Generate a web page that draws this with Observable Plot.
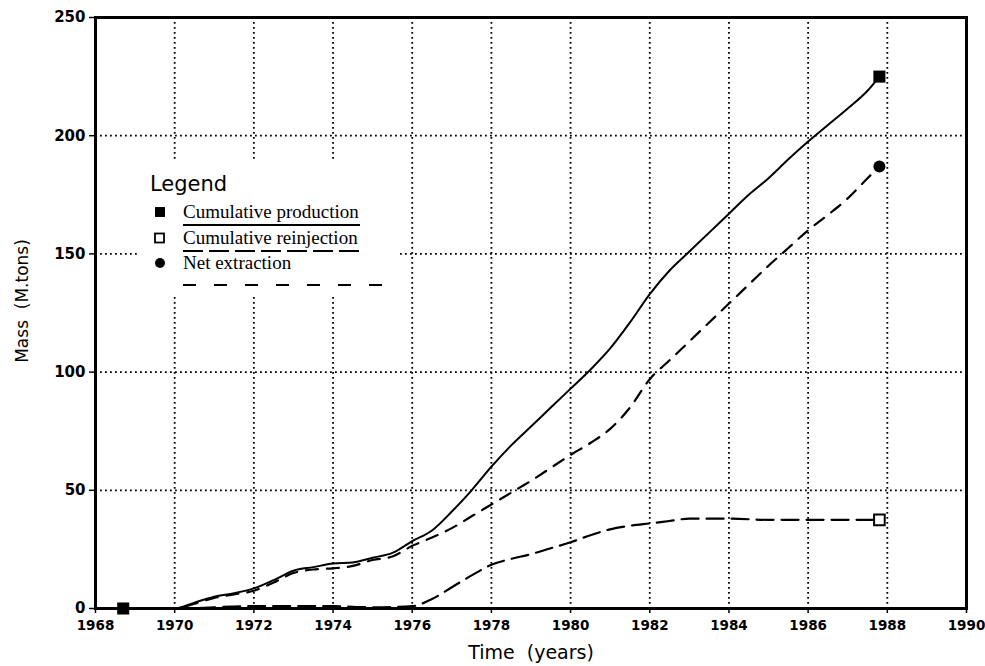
<!DOCTYPE html>
<html>
<head>
<meta charset="utf-8">
<script src="https://cdn.jsdelivr.net/npm/d3@7"></script>
<script src="https://cdn.jsdelivr.net/npm/@observablehq/plot@0.6"></script>
<style>
  html, body { margin: 0; padding: 0; background: #fff; }
  #wrap { position: relative; width: 985px; height: 666px; }
  #legend { position: absolute; left: 140px; top: 160px; }
</style>
</head>
<body>
<div id="wrap"></div>
<script>
// ---- data ----
const prodYears = [1968.7, 1970, 1970.5, 1971, 1971.5, 1972, 1972.5, 1973, 1973.5, 1974, 1974.5, 1975, 1975.5, 1976, 1976.5, 1977, 1977.5, 1978, 1978.5, 1979, 1979.5, 1980, 1980.5, 1981, 1981.5, 1982, 1982.5, 1983, 1983.5, 1984, 1984.5, 1985, 1985.5, 1986, 1986.5, 1987, 1987.5, 1987.8];
const production = [0, 0, 2.5, 5, 6.5, 8.5, 12, 16, 17.5, 19, 19.5, 21.5, 23.5, 28.5, 33, 41, 50, 60, 69, 77, 85, 93, 101, 110, 121, 133, 143, 151, 159, 167, 175, 182, 190, 197.5, 204.5, 211.5, 219, 225];

const netYears = [1968.7, 1970, 1970.5, 1971, 1971.5, 1972, 1972.5, 1973, 1973.5, 1974, 1974.5, 1975, 1975.5, 1976, 1976.5, 1977, 1977.5, 1978, 1978.5, 1979, 1979.5, 1980, 1980.5, 1981, 1981.5, 1982, 1982.5, 1983, 1983.5, 1984, 1984.5, 1985, 1985.5, 1986, 1986.5, 1987, 1987.5, 1987.8];
const netExtraction = [0, 0, 2, 4.5, 6, 7.5, 11, 15, 16.5, 17, 18, 20.5, 22, 26.5, 30, 34, 39, 44, 49, 54, 59.5, 65, 70, 76, 85, 97, 105, 113, 121, 129, 137, 145, 152.5, 160, 166.5, 173.5, 182, 187];

const reinjYears = [1968.7, 1970, 1972, 1974, 1975, 1976, 1976.5, 1977, 1977.5, 1978, 1978.5, 1979, 1979.5, 1980, 1980.5, 1981, 1981.5, 1982, 1982.5, 1983, 1984, 1985, 1986, 1987, 1987.8];
const reinjection = [0, 0, 1, 1, 0.5, 1, 4, 9, 14, 18.5, 21, 23, 25.5, 28, 31, 33.5, 35, 36, 37, 38, 38, 37.5, 37.5, 37.5, 37.5];

const xTicks = [1968, 1970, 1972, 1974, 1976, 1978, 1980, 1982, 1984, 1986, 1988, 1990];
const yTicks = [0, 50, 100, 150, 200, 250];

const legendTitle = "Legend";
const legendLabels = ["Cumulative production", "Cumulative reinjection", "Net extraction"];

// ---- tables ----
const prodData = prodYears.map((x, i) => ({x, y: production[i]}));
const netData = netYears.map((x, i) => ({x, y: netExtraction[i]}));
const reinjData = reinjYears.map((x, i) => ({x, y: reinjection[i]}));
const prodStart = prodData[0];
const prodEnd = prodData[prodData.length - 1];
const netEnd = netData[netData.length - 1];
const reinjEnd = reinjData[reinjData.length - 1];

const tickFont = "'DejaVu Sans', sans-serif";

const chart = Plot.plot({
  width: 985,
  height: 666,
  marginLeft: 95,
  marginRight: 19,
  marginTop: 17,
  marginBottom: 58,
  x: {domain: [1968, 1990]},
  y: {domain: [0, 250]},
  style: {background: "#fff", color: "#000", fontFamily: tickFont, fontSize: "14px", fontWeight: "bold"},
  marks: [
    Plot.gridX(xTicks.slice(1, -1), {stroke: "#000", strokeOpacity: 1, strokeWidth: 1.8, strokeDasharray: "1.8,3.2"}),
    Plot.gridY(yTicks.slice(1, -1), {stroke: "#000", strokeOpacity: 1, strokeWidth: 1.8, strokeDasharray: "1.8,3.2"}),
    Plot.axisX(xTicks, {tickFormat: d3.format("d"), tickSize: 5, tickPadding: 7, fontSize: 13.5, strokeWidth: 1.5, label: null}),
    Plot.axisY(yTicks, {tickFormat: d3.format("d"), tickSize: 6, tickPadding: 4, fontSize: 15, strokeWidth: 1.5, label: null}),
    Plot.text(["Time  (years)"], {frameAnchor: "bottom", dy: 50, fontSize: 19, fontWeight: "normal", fontFamily: tickFont}),
    Plot.text(["Mass  (M.tons)"], {frameAnchor: "left", textAnchor: "middle", dx: -73, dy: -12, rotate: -90, fontSize: 17, fontWeight: "normal", fontFamily: tickFont}),
    Plot.line(reinjData, {x: "x", y: "y", stroke: "#000", strokeWidth: 2.2, strokeDasharray: "17,8", curve: "monotone-x"}),
    Plot.line(netData, {x: "x", y: "y", stroke: "#000", strokeWidth: 2.2, strokeDasharray: "12,9", curve: "monotone-x"}),
    Plot.line(prodData, {x: "x", y: "y", stroke: "#000", strokeWidth: 2, curve: "monotone-x"}),
    Plot.dot([prodStart, prodEnd], {x: "x", y: "y", symbol: "square", r: 6.8, fill: "#000", stroke: "none"}),
    Plot.dot([reinjEnd], {x: "x", y: "y", symbol: "square", r: 6, fill: "#fff", stroke: "#000", strokeWidth: 2}),
    Plot.dot([netEnd], {x: "x", y: "y", symbol: "circle", r: 6, fill: "#000", stroke: "none"}),
    Plot.frame({stroke: "#000", strokeWidth: 3})
  ]
});
document.getElementById("wrap").appendChild(chart);

// ---- legend (white box over the grid, as in the reference) ----
const lg = d3.select("#wrap").append("svg")
  .attr("id", "legend")
  .attr("width", 258).attr("height", 134);
lg.append("rect").attr("width", 258).attr("height", 134).attr("fill", "#fff");
lg.append("text").attr("x", 10).attr("y", 31)
  .attr("font-family", tickFont).attr("font-size", 21).text(legendTitle);
const serif = "'Liberation Serif', 'Times New Roman', serif";
const rows = [
  {cy: 52, sym: "fsq"},
  {cy: 78, sym: "osq"},
  {cy: 103, sym: "dot"}
];
rows.forEach((r, i) => {
  if (r.sym === "fsq") lg.append("rect").attr("x", 15).attr("y", r.cy - 5).attr("width", 10).attr("height", 10).attr("fill", "#000");
  if (r.sym === "osq") lg.append("rect").attr("x", 15).attr("y", r.cy - 4.5).attr("width", 9).attr("height", 9).attr("fill", "#fff").attr("stroke", "#000").attr("stroke-width", 1.8);
  if (r.sym === "dot") lg.append("circle").attr("cx", 20).attr("cy", r.cy).attr("r", 5).attr("fill", "#000");
  lg.append("text").attr("x", 43).attr("y", r.cy + 6)
    .attr("font-family", serif).attr("font-size", 19).text(legendLabels[i]);
});
lg.append("line").attr("x1", 43).attr("x2", 220).attr("y1", 65).attr("y2", 65).attr("stroke", "#000").attr("stroke-width", 2);
lg.append("line").attr("x1", 43).attr("x2", 220).attr("y1", 91).attr("y2", 91).attr("stroke", "#000").attr("stroke-width", 2).attr("stroke-dasharray", "20,6");
lg.append("line").attr("x1", 43).attr("x2", 248).attr("y1", 125).attr("y2", 125).attr("stroke", "#000").attr("stroke-width", 2).attr("stroke-dasharray", "13,18");
</script>
</body>
</html>
